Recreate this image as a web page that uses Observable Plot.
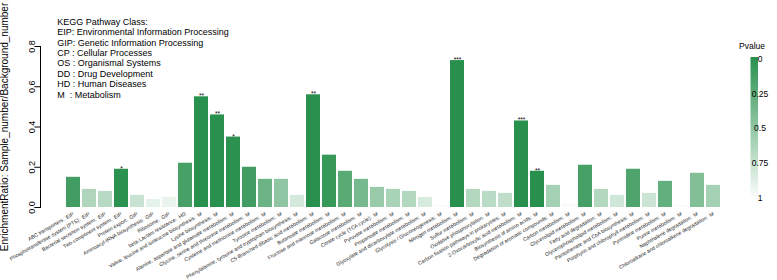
<!DOCTYPE html>
<html><head><meta charset="utf-8">
<script src="https://cdn.jsdelivr.net/npm/d3@7"></script>
<script src="https://cdn.jsdelivr.net/npm/@observablehq/plot@0.6"></script>
<style>
html,body{margin:0;padding:0;background:#fff;}
#chart{width:777px;height:280px;overflow:hidden;}
svg{display:block;font-family:"Liberation Sans",Arial,Helvetica,sans-serif;}
</style></head><body><div id="chart"></div>
<script>
const pathways = [
  "ABC transporters","Phosphotransferase system (PTS)","Bacterial secretion system","Two-component system",
  "Protein export","Aminoacyl-tRNA biosynthesis","Ribosome","beta-Lactam resistance",
  "Valine, leucine and isoleucine biosynthesis","Lysine biosynthesis","Alanine, aspartate and glutamate metabolism",
  "Glycine, serine and threonine metabolism","Cysteine and methionine metabolism","Tyrosine metabolism",
  "Phenylalanine, tyrosine and tryptophan biosynthesis","C5-Branched dibasic acid metabolism","Butanoate metabolism",
  "Fructose and mannose metabolism","Galactose metabolism","Citrate cycle (TCA cycle)","Pyruvate metabolism",
  "Propanoate metabolism","Glyoxylate and dicarboxylate metabolism","Glycolysis / Gluconeogenesis","Nitrogen metabolism",
  "Sulfur metabolism","Oxidative phosphorylation","Carbon fixation pathways in prokaryotes","2-Oxocarboxylic acid metabolism",
  "Biosynthesis of amino acids","Degradation of aromatic compounds","Carbon metabolism","Glycerolipid metabolism",
  "Fatty acid degradation","Glycerophospholipid metabolism","Pantothenate and CoA biosynthesis",
  "Porphyrin and chlorophyll metabolism","Pyrimidine metabolism","Purine metabolism","Naphthalene degradation",
  "Chloroalkane and chloroalkene degradation"
];
const classes = ["EIP","EIP","EIP","EIP","GIP","GIP","GIP","HD",
  "M","M","M","M","M","M","M","M","M","M","M","M","M","M","M","M","M","M","M","M","M","M","M","M","M","M","M","M","M","M","M","M","M"];
const ratios = [0.15,0.09,0.08,0.19,0.06,0.04,0.05,0.22,
  0.55,0.46,0.35,0.20,0.14,0.14,0.06,0.56,0.26,0.18,0.14,0.10,0.09,0.08,0.05,0.01,0.73,
  0.09,0.08,0.07,0.43,0.18,0.11,0.02,0.21,0.09,0.06,0.19,0.07,0.13,0.01,0.17,0.11];
const pvalues = [0.12,0.63,0.67,0.02,0.75,0.88,0.90,0.15,
  0.005,0.008,0.02,0.12,0.32,0.48,0.80,0.006,0.07,0.23,0.37,0.53,0.60,0.65,0.82,0.97,0.0005,
  0.65,0.68,0.70,0.0008,0.004,0.58,0.97,0.14,0.65,0.78,0.18,0.76,0.28,0.97,0.42,0.58];
const stars = ["","","","*","","","","",
  "**","**","*","","","","","**","","","","","","","","","***",
  "","","","***","**","","","","","","","","","","",""];
const yTicks = [0, 0.2, 0.4, 0.6, 0.8];
const legendTicks = [0, 0.25, 0.5, 0.75, 1];
const legendLabels = ["0","0.25","0.5","0.75","1"];
const yTitle = "EnrichmentRatio: Sample_number/Background_number";
const classNotes = [
  "KEGG Pathway Class:",
  "EIP: Environmental Information Processing",
  "GIP: Genetic Information Processing",
  "CP : Cellular Processes",
  "OS : Organismal Systems",
  "DD : Drug Development",
  "HD : Human Diseases",
  "M  : Metabolism"
];

const data = pathways.map((name, i) => ({name, cls: classes[i], ratio: ratios[i], p: pvalues[i], star: stars[i]}));
const FONT = '"Liberation Sans",Arial,Helvetica,sans-serif';

const chart = Plot.plot({
  width: 777, height: 280,
  marginLeft: 40, marginRight: 56, marginTop: 46, marginBottom: 73,
  style: {fontFamily: FONT, background: "white", color: "black", overflow: "visible"},
  x: {domain: pathways, range: [65, 721], paddingInner: 0.125, paddingOuter: 0.0625, axis: null},
  y: {domain: [0, 0.8]},
  color: {type: "linear", domain: [0, 1], range: ["#27904c", "#ffffff"], interpolate: "rgb"},
  marks: [
    Plot.barY(data, {x: "name", y: "ratio", fill: "p"}),
    Plot.frame({anchor: "left", stroke: "black"}),
    Plot.axisY(yTicks, {tickSize: 5, tickPadding: 1, tickRotate: -90, tickFormat: d3.format(".1f"), fontSize: 9, label: null}),
    Plot.text(data, {x: "name", text: d => d.name + ":\u2002" + d.cls, frameAnchor: "bottom", dy: 6, rotate: -30,
      textAnchor: "end", lineAnchor: "middle", fontSize: 5.2, fill: "#222"}),
    Plot.text(data.filter(d => d.star), {x: "name", y: "ratio", text: "star", dy: 1.5, lineAnchor: "bottom", fontSize: 6.5}),
    Plot.text([yTitle], {frameAnchor: "left", dx: -35.5, rotate: -90, textAnchor: "middle", lineAnchor: "middle", fontSize: 10}),
    Plot.text([classNotes.join("\n")], {frameAnchor: "top-left", dx: 16.7, dy: -29, textAnchor: "start", lineAnchor: "top", fontSize: 9, lineHeight: 1.155})
  ]
});
document.getElementById("chart").appendChild(chart);

// vertical colour legend
const color = chart.scale("color");
const svg = d3.select(chart);
const grad = svg.append("defs").append("linearGradient").attr("id", "pgrad")
  .attr("x1", 0).attr("y1", 0).attr("x2", 0).attr("y2", 1);
d3.range(0, 1.0001, 0.1).forEach(t => grad.append("stop").attr("offset", t).attr("stop-color", color.apply(t)));
const ly = d3.scaleLinear([0, 1], [59, 198]);
const lg = svg.append("g").attr("font-family", FONT);
lg.append("rect").attr("x", 750.5).attr("y", 57).attr("width", 7.5).attr("height", 144).attr("fill", "url(#pgrad)");
lg.append("text").attr("x", 752).attr("y", 49).attr("text-anchor", "middle").attr("font-size", 8.5).text("Pvalue");
lg.selectAll("text.tl").data(legendTicks).join("text").attr("class", "tl")
  .attr("x", 760).attr("y", d => ly(d)).attr("dy", "0.35em").attr("font-size", 8.5)
  .text((d, i) => legendLabels[i]);
</script></body></html>
